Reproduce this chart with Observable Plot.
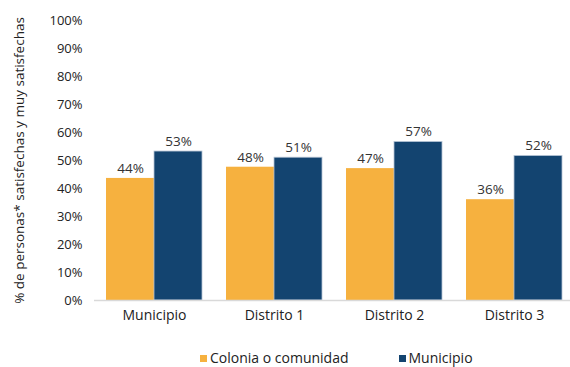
<!DOCTYPE html>
<html>
<head>
<meta charset="utf-8">
<script src="https://cdn.jsdelivr.net/npm/d3@7"></script>
<script src="https://cdn.jsdelivr.net/npm/@observablehq/plot@0.6"></script>
<style>
  body { margin: 0; background: #fff; font-family: "Open Sans", sans-serif; }
  #chart { width: 570px; }
  .legend { display: flex; justify-content: flex-start; gap: 50px; font-size: 14px; line-height: 18px; color: #222; height: 27px; box-sizing: border-box; padding-top: 9px; padding-left: 200px; }
  .legend span.sw { display: inline-block; width: 7px; height: 7px; margin-right: 3px; vertical-align: 1px; }
  g[aria-label="y-axis label"] text { font-size: 13.5px; }
  g[aria-label="x-axis tick label"] text { font-size: 14px; }
</style>
</head>
<body>
<div id="chart"></div>
<script>
const categories = ["Municipio", "Distrito 1", "Distrito 2", "Distrito 3"];
const seriesNames = ["Colonia o comunidad", "Municipio"];
const seriesColors = ["#F6B13F", "#134470"];
const coloniaValues = [0.436, 0.476, 0.471, 0.360];
const municipioValues = [0.532, 0.510, 0.566, 0.516];
const yTicks = [0, 0.1, 0.2, 0.3, 0.4, 0.5, 0.6, 0.7, 0.8, 0.9, 1.0];
const yLabel = "% de personas* satisfechas y muy satisfechas";

const data = [];
categories.forEach((c, i) => {
  data.push({category: c, series: seriesNames[0], value: coloniaValues[i]});
  data.push({category: c, series: seriesNames[1], value: municipioValues[i]});
});
const left = data.filter(d => d.series === seriesNames[0]);
const right = data.filter(d => d.series === seriesNames[1]);
const fmt = d => Math.round(d.value * 100) + "%";

const chart = Plot.plot({
  width: 570,
  height: 340,
  marginTop: 20,
  marginBottom: 40,
  marginLeft: 94,
  marginRight: 0,
  style: {fontFamily: "Open Sans, sans-serif", fontSize: "13px", color: "#222", background: "#fff"},
  x: {domain: categories, range: [94, 574], paddingInner: 0.2, paddingOuter: 0.1, label: null, tickSize: 0, tickPadding: 10},
  y: {domain: [0, 1], ticks: yTicks, tickFormat: d => Math.round(d * 100) + "%", tickSize: 0, tickPadding: 12, label: yLabel, labelAnchor: "center", labelArrow: "none", labelOffset: 80},
  color: {domain: seriesNames, range: seriesColors},
  marks: [
    Plot.barY(left, {x: "category", y: "value", fill: "series", insetRight: 48}),
    Plot.barY(right, {x: "category", y: "value", fill: "series", insetLeft: 48, stroke: "#b4c4d4", strokeWidth: 0.8}),
    Plot.ruleY([0], {stroke: "#d9d9d9", strokeWidth: 1.5}),
    Plot.text(left, {x: "category", y: "value", text: fmt, dx: -24, dy: -10, fill: "#333", fontSize: 13.5}),
    Plot.text(right, {x: "category", y: "value", text: fmt, dx: 24, dy: -10, fill: "#333", fontSize: 13.5})
  ]
});
document.getElementById("chart").appendChild(chart);

const legend = document.createElement("div");
legend.className = "legend";
seriesNames.forEach((s, i) => {
  const item = document.createElement("div");
  item.innerHTML = `<span class="sw" style="background:${seriesColors[i]}"></span>${s}`;
  legend.appendChild(item);
});
document.getElementById("chart").appendChild(legend);
</script>
</body>
</html>
